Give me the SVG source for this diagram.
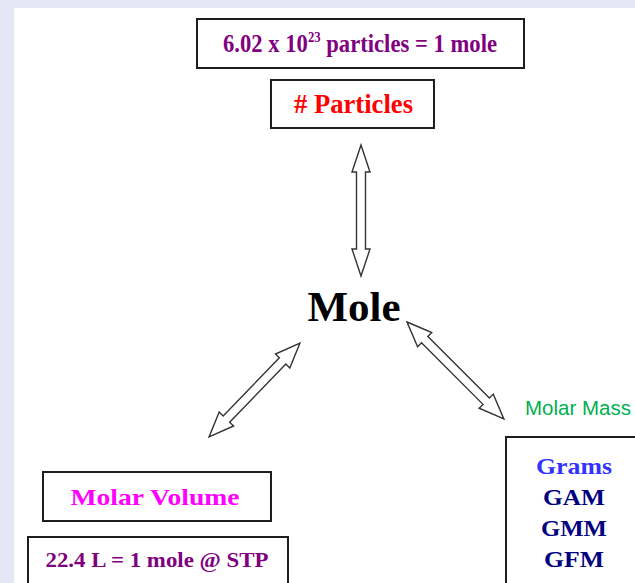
<svg xmlns="http://www.w3.org/2000/svg" width="635" height="583" viewBox="0 0 635 583">
<defs>
<style>
.box{fill:#ffffff;stroke:#1e1e1e;stroke-width:2}
.t{font-family:"Liberation Serif","Times New Roman",serif;font-weight:bold;text-anchor:middle}
.arr{fill:#ffffff;stroke:#333333;stroke-width:1.4;stroke-linejoin:miter}
</style>
</defs>
<rect x="0" y="0" width="635" height="583" fill="#e6e6f6"/>
<rect x="14" y="8" width="621" height="575" fill="#ffffff"/>

<g id="connectors">
<polygon class="arr" transform="translate(361,145) rotate(90)" points="0,0 27,-9 27,-4.5 104,-4.5 104,-9 131,0 104,9 104,4.5 27,4.5 27,9"/>
<polygon class="arr" transform="translate(300,343) rotate(134.07)" points="0,0 25,-10 25,-4.5 105.8,-4.5 105.8,-10 130.8,0 105.8,10 105.8,4.5 25,4.5 25,10"/>
<polygon class="arr" transform="translate(407,322) rotate(45)" points="0,0 25,-10 25,-4.5 112,-4.5 112,-10 137,0 112,10 112,4.5 25,4.5 25,10"/>
</g>

<g id="node-avogadro">
<rect class="box" x="197" y="19" width="327" height="49"/>
<text class="t" x="360" y="52" font-size="25" fill="#800080" textLength="274" lengthAdjust="spacingAndGlyphs">6.02 x 10<tspan font-size="14" dy="-10">23</tspan><tspan dy="10"> particles = 1 mole</tspan></text>
</g>

<g id="node-particles">
<rect class="box" x="271" y="80" width="163" height="48"/>
<text class="t" x="353.5" y="113" font-size="27" fill="#ff0000" textLength="119" lengthAdjust="spacingAndGlyphs"># Particles</text>
</g>

<g id="node-mole">
<text class="t" x="354" y="321" font-size="43" fill="#000000">Mole</text>
</g>

<g id="node-molar-volume">
<rect class="box" x="43" y="472" width="228" height="49"/>
<text class="t" x="155" y="505" font-size="24" fill="#ff00ff" textLength="169" lengthAdjust="spacingAndGlyphs">Molar Volume</text>
</g>

<g id="node-stp">
<rect class="box" x="28" y="537" width="260" height="60"/>
<text class="t" x="157" y="567" font-size="21" fill="#800080" textLength="223" lengthAdjust="spacingAndGlyphs">22.4 L = 1 mole @ STP</text>
</g>

<g id="node-molar-mass-label">
<text x="525" y="415" font-family="Liberation Sans, Arial, sans-serif" font-size="20.5" fill="#00b050">Molar Mass</text>
</g>

<g id="node-grams">
<rect class="box" x="506" y="437" width="140" height="160"/>
<text class="t" x="574" y="474" font-size="24" fill="#3333ff" textLength="76" lengthAdjust="spacingAndGlyphs">Grams</text>
<text class="t" x="574" y="505" font-size="24" fill="#000080" textLength="62" lengthAdjust="spacingAndGlyphs">GAM</text>
<text class="t" x="574" y="536" font-size="24" fill="#000080" textLength="66" lengthAdjust="spacingAndGlyphs">GMM</text>
<text class="t" x="574" y="567" font-size="24" fill="#000080" textLength="60" lengthAdjust="spacingAndGlyphs">GFM</text>
</g>
</svg>
